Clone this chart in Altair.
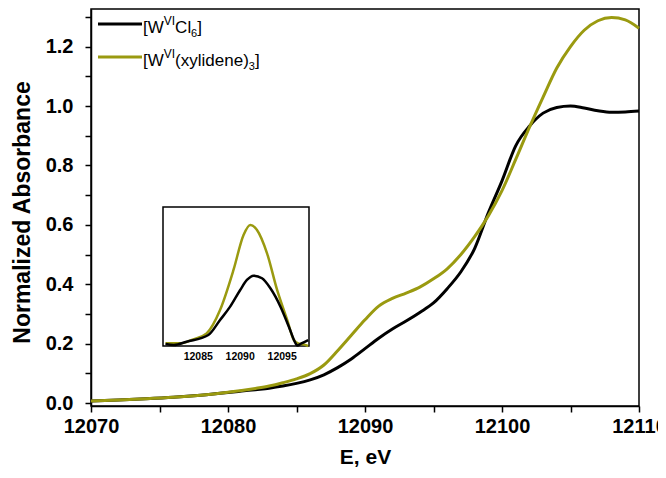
import altair as alt
import pandas as pd

FONT = "Liberation Sans"
BLACK = "#000000"
OLIVE = "#9A9A10"

SERIES = ["[WVICl6]", "[WVI(xylidene)3]"]

# main spectra
E_MAIN = [12070, 12072, 12074, 12076, 12078, 12080, 12081, 12082, 12083, 12084,
          12085, 12086, 12087, 12088, 12089, 12090, 12091, 12092, 12093, 12094,
          12095, 12096, 12097, 12098, 12099, 12100, 12101, 12102, 12103, 12104,
          12105, 12106, 12107, 12108, 12109, 12110]
A_CL6 = [0.007, 0.010, 0.014, 0.019, 0.026, 0.035, 0.040, 0.045, 0.050, 0.057,
         0.066, 0.078, 0.095, 0.119, 0.148, 0.183, 0.218, 0.249, 0.276, 0.305,
         0.337, 0.385, 0.442, 0.520, 0.640, 0.748, 0.866, 0.932, 0.976, 0.995,
         1.000, 0.993, 0.984, 0.979, 0.980, 0.983]
A_XYL = [0.007, 0.010, 0.014, 0.019, 0.026, 0.036, 0.042, 0.049, 0.057, 0.068,
         0.081, 0.099, 0.128, 0.176, 0.228, 0.280, 0.326, 0.352, 0.370, 0.390,
         0.418, 0.452, 0.500, 0.560, 0.630, 0.715, 0.820, 0.928, 1.030, 1.128,
         1.200, 1.255, 1.287, 1.298, 1.290, 1.262]

# inset (pre-edge) spectra
E_IN_XYL = [12081.1, 12082.0, 12082.9, 12084.4, 12086.0, 12087.6, 12089.2, 12090.4,
            12091.2, 12092.0, 12093.2, 12094.4, 12095.6, 12096.4, 12096.9, 12097.5, 12098.1]
I_XYL = [0.019, 0.019, 0.019, 0.048, 0.091, 0.259, 0.547, 0.799,
         0.871, 0.835, 0.667, 0.403, 0.187, 0.043, 0.019, 0.012, 0.0]
E_IN_CL6 = [12081.1, 12082.1, 12083.6, 12086.2, 12087.6, 12088.8, 12090.0, 12090.8,
            12091.6, 12092.6, 12093.6, 12094.8, 12095.8, 12096.6, 12096.8, 12097.3, 12098.1]
I_CL6 = [0.014, 0.007, 0.031, 0.079, 0.187, 0.283, 0.403, 0.475,
         0.506, 0.487, 0.415, 0.283, 0.139, 0.019, 0.003, 0.019, 0.043]

X_TICKS = [12070, 12075, 12080, 12085, 12090, 12095, 12100, 12105, 12110]
Y_TICKS = [0.0, 0.1, 0.2, 0.3, 0.4, 0.5, 0.6, 0.7, 0.8, 0.9, 1.0, 1.1, 1.2, 1.3]
INSET_TICKS = [12085, 12090, 12095]

main_df = pd.DataFrame({"E": E_MAIN, "cl6": A_CL6, "xyl": A_XYL})
in_cl6 = pd.DataFrame({"E": E_IN_CL6, "I": I_CL6})
in_xyl = pd.DataFrame({"E": E_IN_XYL, "I": I_XYL})
in_ticks = pd.DataFrame({"E": INSET_TICKS})
one = pd.DataFrame({"a": [0]})

x_scale = alt.Scale(domain=[12070, 12110], nice=False, zero=False)
y_scale = alt.Scale(domain=[-0.0101, 1.3266], nice=False, zero=False)

x_axis = alt.Axis(values=X_TICKS, format="d", title="E, eV",
                  labelExpr="datum.value % 10 == 0 ? datum.label : ''",
                  labelFlush=False, labelOverlap=False, labelPadding=4,
                  titlePadding=10, titleFontSize=21)
y_axis = alt.Axis(values=Y_TICKS, title="Normalized Absorbance",
                  labelExpr="round(datum.value*10) % 2 == 0 ? format(datum.value, '.1f') : ''",
                  labelOverlap=False, labelPadding=12, labelFlush=False,
                  titleFontSize=23, titleX=-62, titleY=203, titleBaseline="alphabetic")

line_cl6 = alt.Chart(main_df).mark_line(color=BLACK, strokeWidth=3, interpolate="monotone").encode(
    x=alt.X("E:Q", scale=x_scale, axis=x_axis),
    y=alt.Y("cl6:Q", scale=y_scale, axis=y_axis),
)
line_xyl = alt.Chart(main_df).mark_line(color=OLIVE, strokeWidth=3, interpolate="monotone").encode(
    x=alt.X("E:Q", scale=x_scale, axis=x_axis),
    y=alt.Y("xyl:Q", scale=y_scale, axis=y_axis),
)


def piece(s, x, y, size):
    return alt.Chart(one).mark_text(text=s, align="left", baseline="alphabetic",
                                    fontSize=size, font=FONT, color=BLACK).encode(
        x=alt.value(x), y=alt.value(y))


def leg_line(color, y):
    return alt.Chart(one).mark_rule(color=color, strokeWidth=3).encode(
        x=alt.value(7), x2=alt.value(51), y=alt.value(y))


legend = [
    leg_line(BLACK, 15),
    piece("[W", 52, 24, 17), piece("VI", 72.8, 16, 12), piece("Cl", 84.1, 24, 17),
    piece("6", 100.1, 28, 11), piece("]", 106.2, 24, 17),
    leg_line(OLIVE, 48),
    piece("[W", 52, 57, 17), piece("VI", 72.8, 49, 12), piece("(xylidene)", 84.1, 57, 17),
    piece("3", 157.8, 61, 11), piece("]", 163.9, 57, 17),
]

main = alt.layer(line_cl6, line_xyl, *legend)

# inset
ix_scale = alt.Scale(domain=[12080.8, 12098.2], range=[72, 218], nice=False, zero=False)
iy_scale = alt.Scale(domain=[0, 1], range=[337, 198], nice=False, zero=False)

box = alt.Chart(one).mark_rect(fill="white", stroke=BLACK, strokeWidth=1.5).encode(
    x=alt.value(72), x2=alt.value(218), y=alt.value(198), y2=alt.value(337))
inset_xyl = alt.Chart(in_xyl).mark_line(color=OLIVE, strokeWidth=2.5, interpolate="monotone").encode(
    x=alt.X("E:Q", scale=ix_scale, axis=None),
    y=alt.Y("I:Q", scale=iy_scale, axis=None),
)
inset_cl6 = alt.Chart(in_cl6).mark_line(color=BLACK, strokeWidth=2.5, interpolate="monotone").encode(
    x=alt.X("E:Q", scale=ix_scale, axis=None),
    y=alt.Y("I:Q", scale=iy_scale, axis=None),
)
inset_labels = alt.Chart(in_ticks).mark_text(font=FONT, fontSize=10.5, fontWeight="bold",
                                             color=BLACK, baseline="middle").encode(
    x=alt.X("E:Q", scale=ix_scale, axis=None),
    y=alt.value(348),
    text=alt.Text("E:Q", format="d"),
)
inset = alt.layer(box, inset_xyl, inset_cl6, inset_labels)

chart = alt.layer(main, inset).resolve_scale(x="independent", y="independent").properties(
    width=548, height=397,
    autosize=alt.AutoSizeParams(type="none"),
    padding={"left": 83, "top": 1, "right": 19, "bottom": 62},
).configure_view(stroke=BLACK, strokeWidth=1.5).configure_axis(
    domainColor=BLACK, domainWidth=1.5, tickColor=BLACK, tickWidth=1.5, tickSize=6,
    grid=False, labelFont=FONT, labelFontSize=20, labelFontWeight="bold", labelColor=BLACK,
    titleFont=FONT, titleFontWeight="bold", titleColor=BLACK,
)

chart.save("out.html", embed_options={"renderer": "svg", "actions": False})
